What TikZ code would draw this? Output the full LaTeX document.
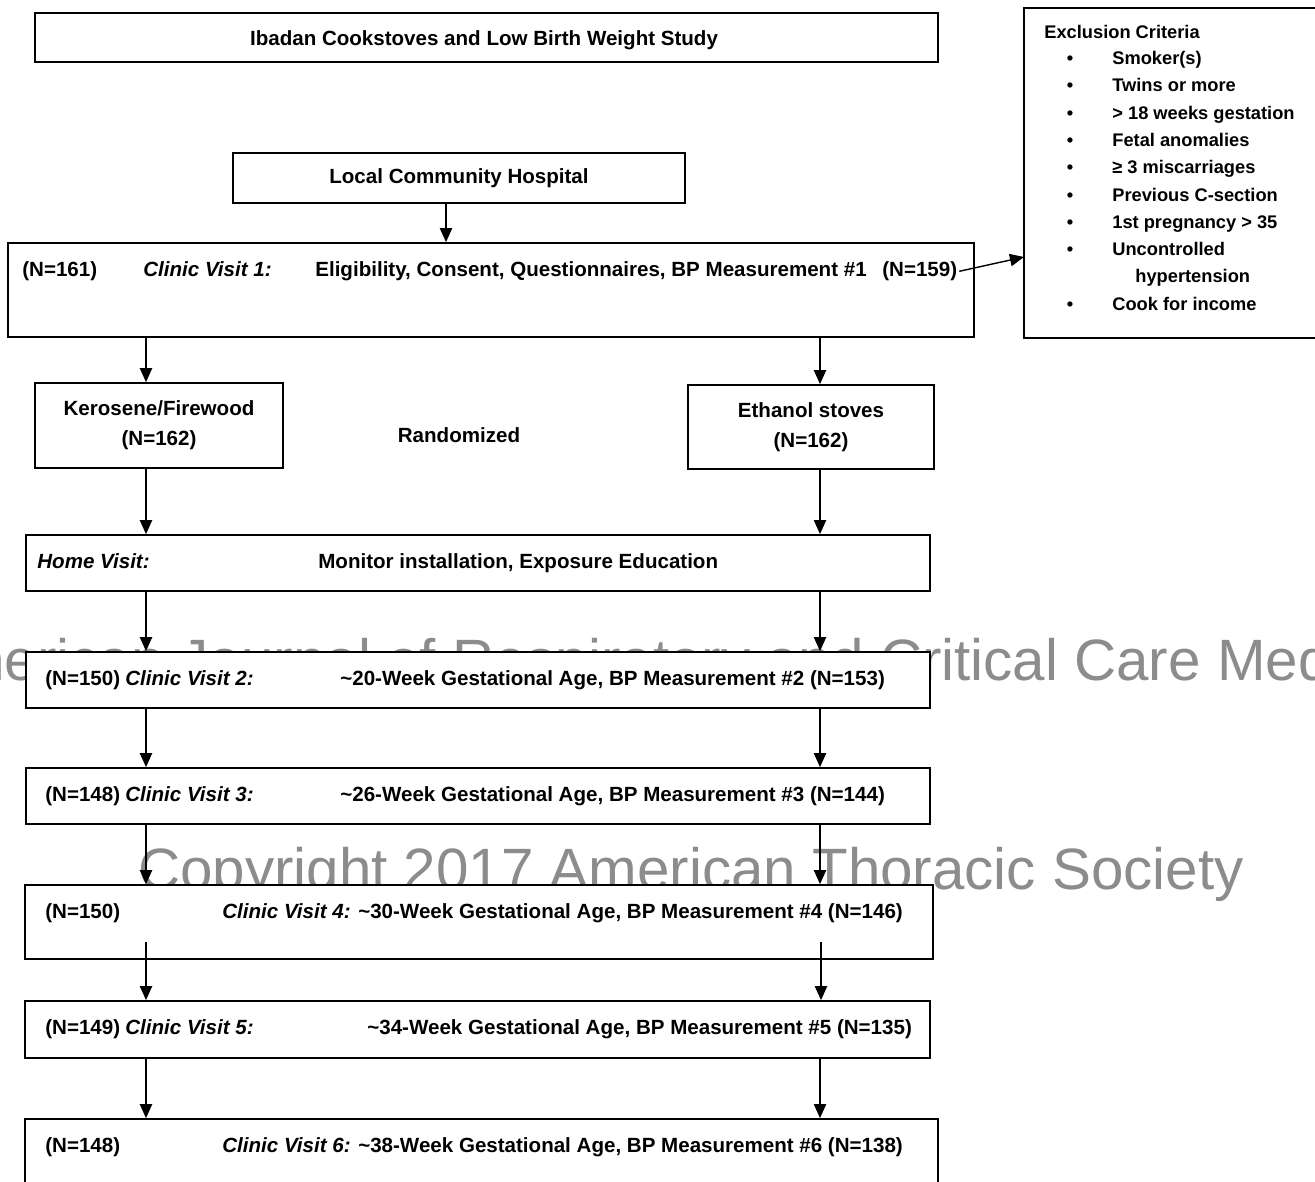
\documentclass[tikz,border=0pt]{standalone}
\usepackage{fontspec}
\setmainfont{Liberation Sans}
\usepackage{tikz}
\usetikzlibrary{calc}
\usetikzlibrary{arrows.meta}
\usetikzlibrary{positioning}
\definecolor{watermark}{RGB}{140, 140, 140}

\begin{document}
\begin{tikzpicture}[x=0.02cm, y=-0.02cm,
    pbox/.style 2 args={draw, fill=white, line width=1pt, inner sep=0pt,
                        minimum width=#1*0.02cm, minimum height=#2*0.02cm,
                        font=\fontsize{11.7}{17}\selectfont\bfseries, align=center},
    txt/.style={inner sep=0pt, anchor=base west, font=\fontsize{11.7}{14}\selectfont\bfseries},
    itl/.style={font=\fontsize{11.7}{14}\selectfont\bfseries\itshape},
    crit/.style={inner sep=0pt, anchor=base west, font=\fontsize{10.4}{13}\selectfont\bfseries},
    wmark/.style={inner sep=0pt, anchor=base, text=watermark, font=\fontsize{33.2}{36}\selectfont},
    arr/.style={line width=0.8pt, -{Triangle[length=8pt, width=7pt]}}]
            % Page frame
            \useasboundingbox                                                 (0, 0) rectangle (1315, 1182);
            \clip                                                             (0, 0) rectangle (1315, 1182);
            % Watermark (under the boxes)
            \node[wmark] (wm1) at ( 684, 680) {American Journal of Respiratory and Critical Care Medicine};
            \node[wmark] (wm2) at ( 691, 889) {Copyright 2017 American Thoracic Society};
            % Boxes
            \node[pbox={903}{49}]  (title) at ( 486.5,   37.5) {};
            \node[pbox={310}{330}] (excl)  at (1179,    173)   {};
            \node[pbox={452}{50}]  (hosp)  at ( 459,    178)   {Local Community Hospital};
            \node[pbox={966}{94}]  (cv1)   at ( 491,    290)   {};
            \node[pbox={248}{85}]  (kero)  at ( 159,    425.5) {Kerosene/Firewood\\(N=162)};
            \node[pbox={246}{84}]  (eth)   at ( 811,    427)   {Ethanol stoves\\(N=162)};
            \node[pbox={904}{56}]  (home)  at ( 478,    563)   {};
            \node[pbox={904}{56}]  (cv2)   at ( 478,    680)   {};
            \node[pbox={904}{56}]  (cv3)   at ( 478,    796)   {};
            \node[pbox={908}{74}]  (cv4)   at ( 479,    922)   {};
            \node[pbox={905}{57}]  (cv5)   at ( 477.5, 1029.5) {};
            \node[pbox={913}{71}]  (cv6)   at ( 481.5, 1154.5) {};
            \node[txt, anchor=base] (titlet) at (484, 46) {Ibadan Cookstoves and Low Birth Weight Study};
            % Exclusion criteria
            \node[crit] (exhead) at (1044, 39) {Exclusion Criteria};
            \foreach \y/\crit [count=\i] in {65/Smoker(s), 92/Twins or more, 120/{> 18 weeks gestation},
                                             147/Fetal anomalies, 174/{≥ 3 miscarriages}, 202/Previous C-section,
                                             229/{1st pregnancy > 35}, 256/Uncontrolled, 311/Cook for income}
            {
                \node[crit, anchor=base] (b\i) at (1070, \y) {\textbullet};
                \node[crit]              (e\i) at (1112, \y) {\crit};
            }
            \node[crit] (e8b) at (1135, 283) {hypertension};
            % Visit texts
            \node[txt]      (cv1l)  at (  22,  277) {(N=161)};
            \node[txt, itl] (cv1v)  at ( 143,  277) {Clinic Visit 1:};
            \node[txt]      (cv1m)  at ( 315,  277) {Eligibility, Consent, Questionnaires, BP Measurement \#1};
            \node[txt]      (cv1r)  at ( 882,  277) {(N=159)};
            \node[txt, anchor=base] (rand) at (459, 442) {Randomized};
            \node[txt, itl] (homev) at (  37,  568) {Home Visit:};
            \node[txt]      (homem) at ( 318,  568) {Monitor installation, Exposure Education};
            \node[txt]      (cv2l)  at (  45,  685) {(N=150)};
            \node[txt, itl] (cv2v)  at ( 125,  685) {Clinic Visit 2:};
            \node[txt]      (cv2m)  at ( 340,  685) {\textasciitilde 20-Week Gestational Age, BP Measurement \#2 (N=153)};
            \node[txt]      (cv3l)  at (  45,  801) {(N=148)};
            \node[txt, itl] (cv3v)  at ( 125,  801) {Clinic Visit 3:};
            \node[txt]      (cv3m)  at ( 340,  801) {\textasciitilde 26-Week Gestational Age, BP Measurement \#3 (N=144)};
            \node[txt]      (cv4l)  at (  45,  918) {(N=150)};
            \node[txt]      (cv4m)  at ( 222,  918) {\textit{Clinic Visit 4:} \textasciitilde 30-Week Gestational Age, BP Measurement \#4 (N=146)};
            \node[txt]      (cv5l)  at (  45, 1034) {(N=149)};
            \node[txt, itl] (cv5v)  at ( 125, 1034) {Clinic Visit 5:};
            \node[txt]      (cv5m)  at ( 367, 1034) {\textasciitilde 34-Week Gestational Age, BP Measurement \#5 (N=135)};
            \node[txt]      (cv6l)  at (  45, 1152) {(N=148)};
            \node[txt]      (cv6m)  at ( 222, 1152) {\textit{Clinic Visit 6:} \textasciitilde 38-Week Gestational Age, BP Measurement \#6 (N=138)};
            % Arrow columns
            \coordinate (hx)   at ( 446,    0);
            \coordinate (lx)   at ( 146,    0);
            \coordinate (rx)   at ( 820,    0);
            \coordinate (lx4)  at ( 146,  942);
            \coordinate (rx4)  at ( 821,  942);
            \coordinate (exin) at (1024,  257);
            % Arrows
            \draw[arr] (hosp.south -| hx)  -- (cv1.north -| hx);
            \draw[arr, shorten <=1pt] (cv1r.east) -- (exin);
            \draw[arr] (cv1.south -| lx)   -- (kero.north -| lx);
            \draw[arr] (cv1.south -| rx)   -- (eth.north -| rx);
            \draw[arr] (kero.south -| lx)  -- (home.north -| lx);
            \draw[arr] (eth.south -| rx)   -- (home.north -| rx);
            \draw[arr] (home.south -| lx)  -- (cv2.north -| lx);
            \draw[arr] (home.south -| rx)  -- (cv2.north -| rx);
            \draw[arr] (cv2.south -| lx)   -- (cv3.north -| lx);
            \draw[arr] (cv2.south -| rx)   -- (cv3.north -| rx);
            \draw[arr] (cv3.south -| lx)   -- (cv4.north -| lx);
            \draw[arr] (cv3.south -| rx)   -- (cv4.north -| rx);
            \draw[arr] (lx4)               -- (cv5.north -| lx4);
            \draw[arr] (rx4)               -- (cv5.north -| rx4);
            \draw[arr] (cv5.south -| lx)   -- (cv6.north -| lx);
            \draw[arr] (cv5.south -| rx)   -- (cv6.north -| rx);
\end{tikzpicture}
\end{document}
